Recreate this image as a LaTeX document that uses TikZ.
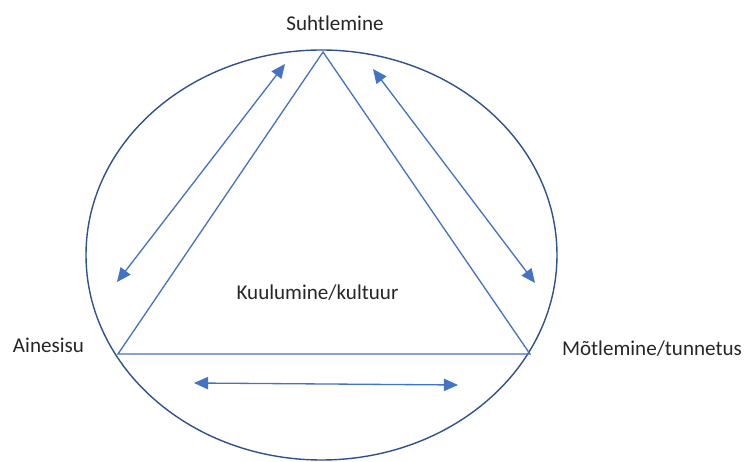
\documentclass[tikz,border=0pt]{standalone}
\usepackage{fontspec}
\setmainfont{Carlito}
\usetikzlibrary{arrows.meta}
\definecolor{ringblue}{HTML}{2F528F}
\definecolor{lineblue}{HTML}{4472C4}

\begin{document}
\begin{tikzpicture}[x=0.02cm,y=-0.02cm,
  lbl/.style={font=\fontsize{12}{14}\selectfont,text=black!85},
  side/.style={draw=lineblue,line width=0.75pt},
  link/.style={lineblue,line width=0.75pt,{Triangle[length=8pt,width=7pt]}-{Triangle[length=8pt,width=7pt]}}]
\useasboundingbox (0,0) rectangle (745,462);
\draw[ringblue,line width=0.8pt] (321.5,255) ellipse [x radius=235.5,y radius=205];
% triangle
\coordinate (top) at (323,52);
\coordinate (left) at (118,354);
\coordinate (right) at (530,354);
\draw[side] (top) -- (left) -- (right) -- cycle;
% labels
\node[lbl] (suhtlemine) at (335,23) {Suhtlemine};
\node[lbl] (ainesisu) at (48.5,345) {Ainesisu};
\node[lbl] (motlemine) at (652,349) {Mõtlemine/tunnetus};
\node[lbl] (kuulumine) at (317.5,293) {Kuulumine/kultuur};
% arrows
\coordinate (la) at (117,282);
\coordinate (lb) at (285,64);
\coordinate (ra) at (373,69);
\coordinate (rb) at (535,283);
\coordinate (ba) at (194,383);
\coordinate (bb) at (458,385);
\draw[link] (la) -- (lb);
\draw[link] (ra) -- (rb);
\draw[link] (ba) -- (bb);
\end{tikzpicture}
\end{document}
